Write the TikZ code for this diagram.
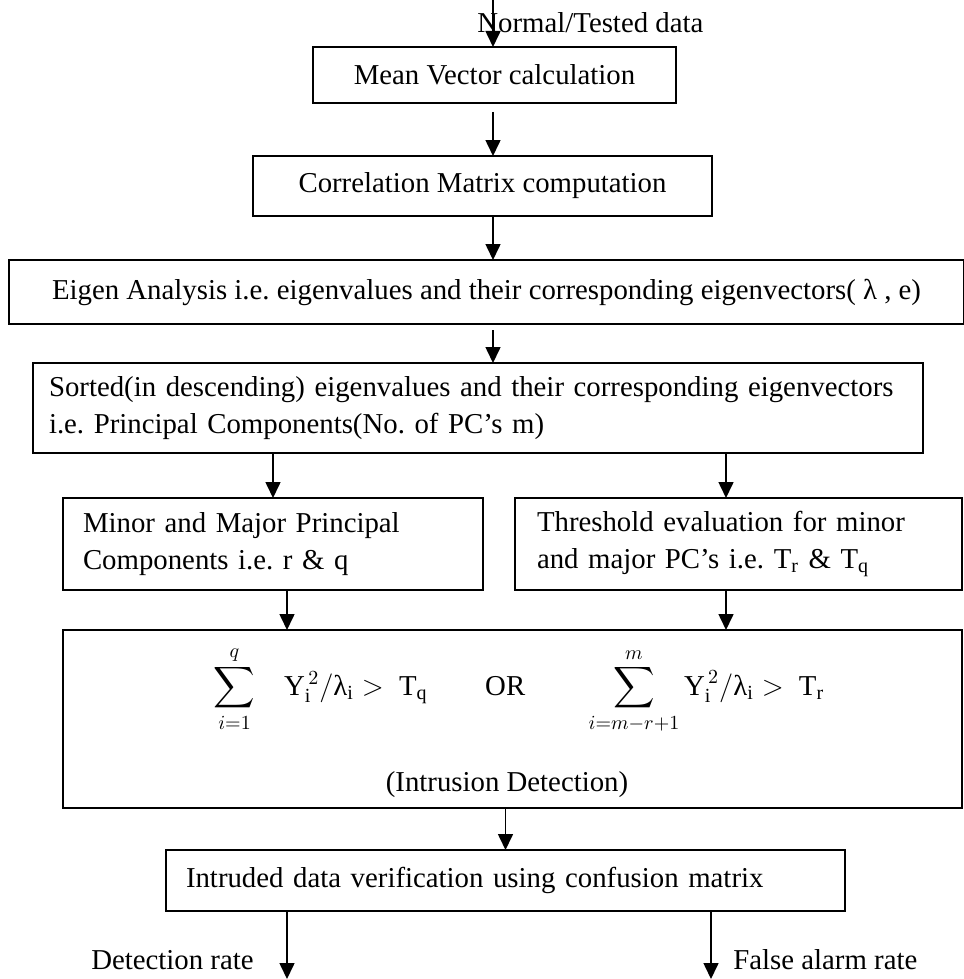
\documentclass[tikz,border=0pt]{standalone}
\usepackage{fontspec}
\setmainfont{Liberation Serif}
\usepackage{amsmath}
\usetikzlibrary{arrows.meta,calc}
\frenchspacing

\begin{document}
\begin{tikzpicture}[x=0.5pt,y=-0.5pt,
    font=\fontsize{14.4}{18.5}\selectfont,
    procbox/.style={draw,line width=1pt,outer sep=0pt,inner xsep=10pt,anchor=north west},
    lbl/.style={inner sep=0pt},
    arr/.style={line width=0.8pt,-{Stealth[inset=0pt,length=8pt,width=7.5pt]}}]
  \useasboundingbox (0,0) rectangle (963,979);
  \coordinate (src) at (493,0); \coordinate (lcol) at (287,0);
  \coordinate (rcol) at (726,0); \coordinate (fcol) at (711,0);
  \coordinate (det) at (287,979); \coordinate (far) at (711,979);
  \node[procbox,minimum width=181.5pt,minimum height=28pt] (mean) at (313,47)
    {Mean Vector calculation};
  \node[procbox,minimum width=229.5pt,minimum height=30pt] (corr) at (253,156)
    {Correlation Matrix computation};
  \node[procbox,minimum width=477.5pt,minimum height=32pt] (eigen) at (9,260)
    {Eigen Analysis i.e. eigenvalues and their corresponding eigenvectors( λ , e)};
  \node[procbox,inner xsep=8pt,text width=429pt,align=left,minimum height=45pt] (sorted) at (33,363)
    {Sorted(in descending) eigenvalues and their corresponding eigenvectors\\
     i.e. Principal Components(No. of PC’s m)};
  \node[procbox,text width=190pt,align=left,minimum height=46pt] (minor) at (63,498)
    {Minor and Major Principal\\ Components i.e. r \& q};
  \node[procbox,inner xsep=11pt,text width=201.5pt,align=left,minimum height=46pt] (thresh) at (515,498)
    {Threshold evaluation for minor\\
     and major PC’s i.e. T\textsubscript{r} \& T\textsubscript{q}};
  \node[procbox,minimum width=449.5pt,minimum height=89pt] (intr) at (63,630) {};
  \node (rule) at (519,690)
    {$\displaystyle\sum_{i=1}^{q}$\quad $\mathrm{Y}_{\mathrm{i}}^{\,2}/\mbox{λ}_{\mathrm{i}} >\ \mathrm{T}_{\mathrm{q}}$%
     \hspace{2em}OR\hspace{2.2em}%
     $\displaystyle\sum_{i=m-r+1}^{m}\mathrm{Y}_{\mathrm{i}}^{\,2}/\mbox{λ}_{\mathrm{i}} >\ \mathrm{T}_{\mathrm{r}}$};
  \node (intrlbl) at (507,785) {(Intrusion Detection)};
  \node[procbox,text width=319.5pt,align=left,minimum height=30.5pt] (verify) at (166,850)
    {Intruded data verification using confusion matrix};
  \node[lbl,anchor=base west] (indata) at (477,33) {Normal/Tested data};
  \node[lbl,anchor=base east] (detrate) at (254,969) {Detection rate};
  \node[lbl,anchor=base west] (falserate) at (733,969) {False alarm rate};
  \draw[arr] (src) -- (mean.north -| src);
  \draw[arr,shorten <=4.5pt] (mean.south -| src) -- (corr.north -| src);
  \draw[arr] (corr.south -| src) -- (eigen.north -| src);
  \draw[arr,shorten <=3pt] (eigen.south -| src) -- (sorted.north -| src);
  \draw[arr] (minor.north |- sorted.south) -- (minor.north);
  \draw[arr] (sorted.south -| rcol) -- (thresh.north -| rcol);
  \draw[arr] (minor.south -| lcol) -- (intr.north -| lcol);
  \draw[arr] (thresh.south -| rcol) -- (intr.north -| rcol);
  \draw[arr] (intr.south -| verify.north) -- (verify.north);
  \draw[arr] (verify.south -| lcol) -- (det);
  \draw[arr] (verify.south -| fcol) -- (far);
\end{tikzpicture}
\end{document}
